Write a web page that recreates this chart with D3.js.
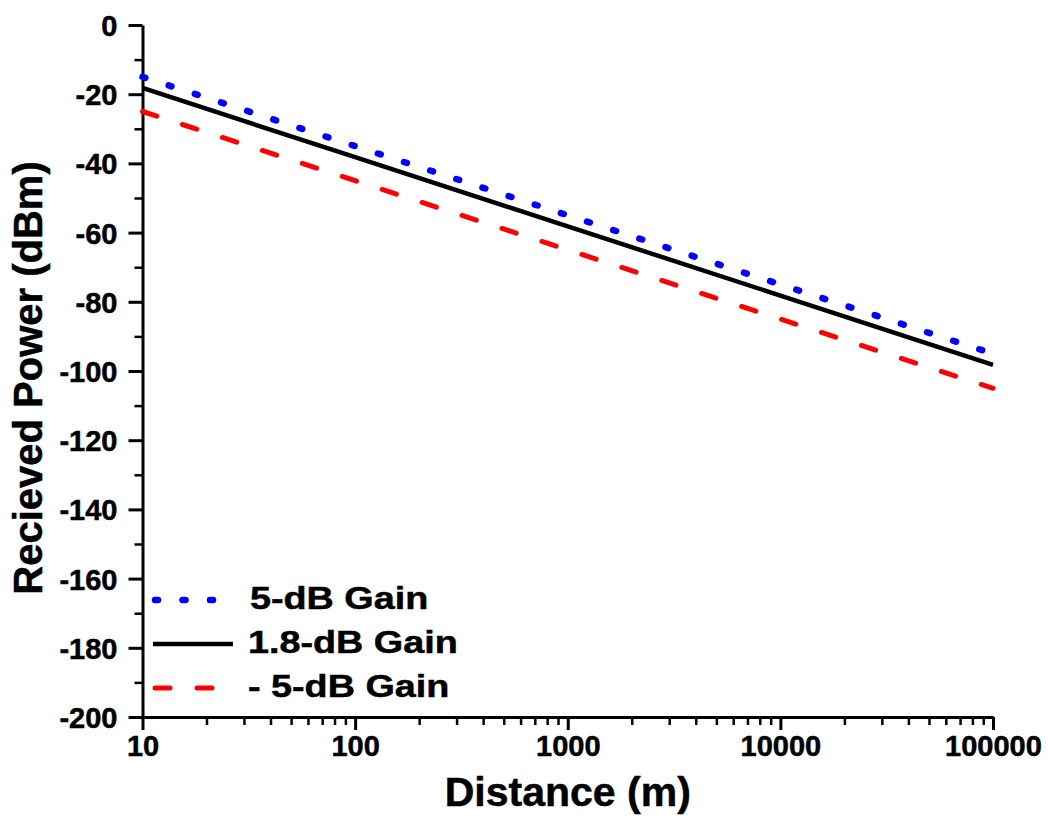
<!DOCTYPE html>
<html>
  <head>
    <meta charset="utf-8">
    <style>
      body { margin: 0; background: #fff; }
      text { font-family: "Liberation Sans", Arial, sans-serif; font-weight: bold; fill: #000; stroke: #000; stroke-width: 0.5px; }
      .axis path, .axis line { stroke: #000; }
    </style>
    <script src="https://d3js.org/d3.v7.min.js"></script>
  </head>
  <body>
    <svg id="chart" width="1048" height="816"></svg>

    <script>
      // data
      var distances = [10, 100, 1000, 10000, 100000];
      var gain5 = [-15, -35, -55, -75, -95];
      var gain18 = [-18.2, -38.2, -58.2, -78.2, -98.2];
      var gainNeg5 = [-25, -45, -65, -85, -105];
      var seriesNames = ["5-dB Gain", "1.8-dB Gain", "- 5-dB Gain"];
      var xTicks = [10, 100, 1000, 10000, 100000];
      var yTicks = [0, -20, -40, -60, -80, -100, -120, -140, -160, -180, -200];

      var svg = d3.select("#chart");
      var plotLeft = 142.5, plotRight = 993, plotTop = 25, plotBottom = 717;

      var x = d3.scaleLog().domain([10, 100000]).range([plotLeft, plotRight]);
      var y = d3.scaleLinear().domain([-200, 0]).range([plotBottom, plotTop]);

      var series = [
        { name: seriesNames[0], values: gain5, color: "#0000ff", width: 6.5, dash: "3,24.5" },
        { name: seriesNames[1], values: gain18, color: "#000000", width: 4.5, dash: null },
        { name: seriesNames[2], values: gainNeg5, color: "#ff0000", width: 5, dash: "15,27" }
      ];

      // minor ticks
      var xMinor = [];
      for (var d = 10; d < 100000; d *= 10) {
        for (var k = 2; k <= 9; k++) xMinor.push(d * k);
      }
      var yMinor = d3.range(-190, 0, 20);

      svg.append("g")
        .attr("class", "axis")
        .attr("transform", "translate(0," + plotBottom + ")")
        .call(d3.axisBottom(x).tickValues(xMinor).tickSize(8).tickFormat(""))
        .call(function(g) { g.select(".domain").remove(); g.selectAll("line").attr("stroke-width", 2.5); });

      svg.append("g")
        .attr("class", "axis")
        .attr("transform", "translate(" + plotLeft + ",0)")
        .call(d3.axisLeft(y).tickValues(yMinor).tickSize(8).tickFormat(""))
        .call(function(g) { g.select(".domain").remove(); g.selectAll("line").attr("stroke-width", 2.5); });

      var xAxis = svg.append("g")
        .attr("class", "axis")
        .attr("transform", "translate(0," + plotBottom + ")")
        .call(d3.axisBottom(x).tickValues(xTicks).tickSize(13).tickSizeOuter(0).tickPadding(5)
          .tickFormat(function(d) { return String(d); }));
      xAxis.select(".domain").attr("stroke-width", 3);
      xAxis.selectAll("line").attr("stroke-width", 3);
      xAxis.selectAll("text").attr("font-size", 29).attr("dy", "0.71em");

      var yAxis = svg.append("g")
        .attr("class", "axis")
        .attr("transform", "translate(" + plotLeft + ",0)")
        .call(d3.axisLeft(y).tickValues(yTicks).tickSize(14).tickSizeOuter(0).tickPadding(11)
          .tickFormat(function(d) { return String(d); }));
      yAxis.select(".domain").attr("stroke-width", 3);
      yAxis.selectAll("line").attr("stroke-width", 3);
      yAxis.selectAll("text").attr("font-size", 29).attr("dy", "0.36em");

      // lines
      var line = d3.line()
        .x(function(d, i) { return x(distances[i]); })
        .y(function(d) { return y(d); });

      series.forEach(function(s) {
        svg.append("path")
          .attr("d", line(s.values))
          .attr("fill", "none")
          .attr("stroke", s.color)
          .attr("stroke-width", s.width)
          .attr("stroke-linecap", s.dash ? "round" : "butt")
          .attr("stroke-dasharray", s.dash);
      });

      // legend
      var legend = svg.append("g").attr("transform", "translate(153,600)");
      series.forEach(function(s, i) {
        var row = legend.append("g").attr("transform", "translate(0," + i * 44 + ")");
        row.append("line")
          .attr("x1", s.dash ? 2 : 0).attr("x2", s.dash ? 70 : 80)
          .attr("stroke", s.color)
          .attr("stroke-width", s.width)
          .attr("stroke-linecap", s.dash ? "round" : "butt")
          .attr("stroke-dasharray", s.dash);
        row.append("text")
          .attr("transform", "translate(" + (i === 0 ? 97 : 95) + ",9) scale(1.18,1)")
          .attr("font-size", 32)
          .text(s.name);
      });

      // axis titles
      svg.append("text")
        .attr("x", (plotLeft + plotRight) / 2)
        .attr("y", 806)
        .attr("text-anchor", "middle")
        .attr("font-size", 41)
        .text("Distance (m)");

      svg.append("text")
        .attr("transform", "translate(42,378) rotate(-90)")
        .attr("text-anchor", "middle")
        .attr("font-size", 40)
        .text("Recieved Power (dBm)");
    </script>
  </body>
</html>
